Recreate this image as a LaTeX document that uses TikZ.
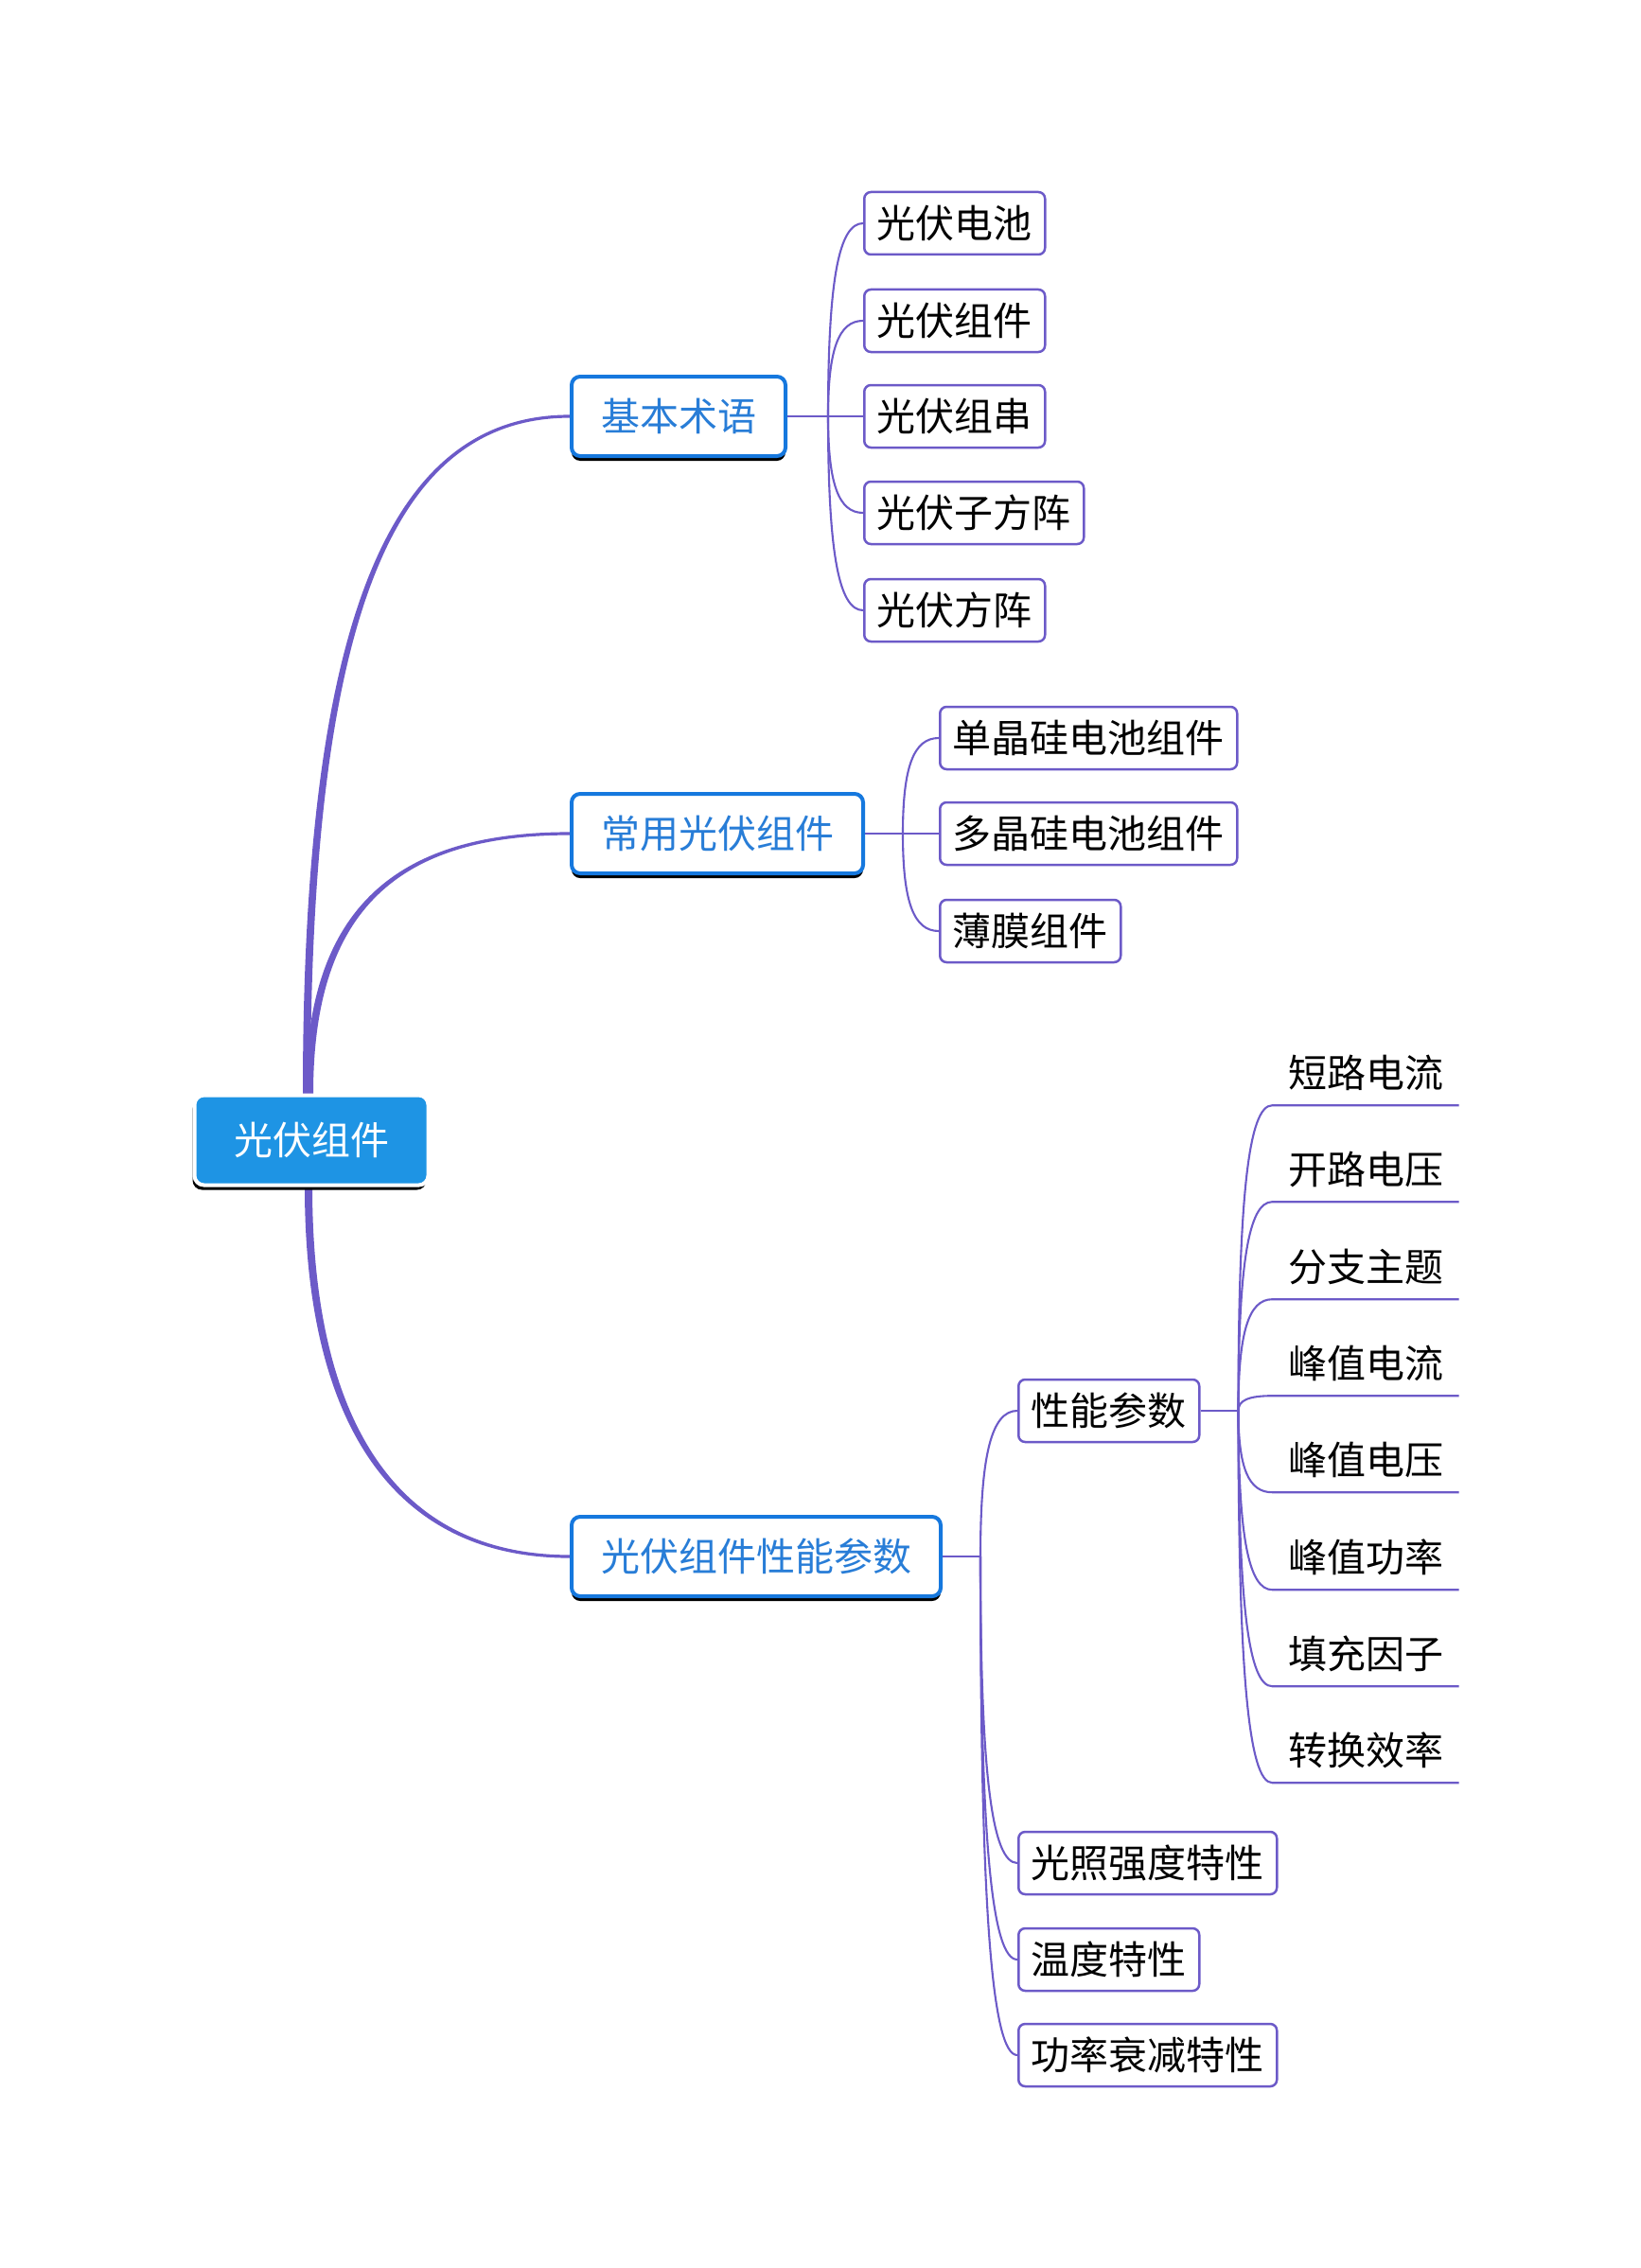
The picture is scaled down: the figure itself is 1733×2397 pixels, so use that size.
\documentclass[tikz,border=0pt]{standalone}
\usepackage{fontspec}
\setmainfont{Noto Sans CJK SC}
\usetikzlibrary{shadows,calc}
\definecolor{lnk}{RGB}{108,90,200}
\definecolor{rootblue}{RGB}{30,148,228}
\definecolor{primblue}{RGB}{22,120,222}
\definecolor{primtext}{RGB}{40,125,215}
\pgfdeclarelayer{bg}
\pgfsetlayers{bg,main}
\tikzset{
  txt/.style={font=\fontsize{41pt}{49pt}\selectfont},
  rootbox/.style={txt, rounded corners=10pt, fill=rootblue, draw=white, line width=4pt, text=white,
    minimum width=247pt, minimum height=95pt, inner sep=0pt,
    drop shadow={shadow xshift=-2pt, shadow yshift=-5pt, fill=black, opacity=1}},
  primbox/.style={txt, rounded corners=9pt, fill=white, draw=primblue, line width=4pt, text=primtext,
    minimum height=84pt, inner xsep=31pt, inner ysep=0pt, anchor=west,
    drop shadow={shadow xshift=0pt, shadow yshift=-5pt, fill=black, opacity=1}},
  leafbox/.style={txt, rounded corners=7pt, fill=white, draw=lnk, line width=2.5pt, text=black,
    minimum height=66pt, inner xsep=13.5pt, inner ysep=0pt, anchor=west},
  ulnode/.style={txt, text=black, minimum width=197pt, minimum height=68pt, inner sep=0pt},
  sub/.style={draw=lnk, line width=2.1pt},
}
\begin{document}
\begin{tikzpicture}[x=1pt,y=-1pt]
\useasboundingbox (0,0) rectangle (1733,2397);

% nodes
\node[rootbox] (root) at (329,1205) {光伏组件};
\node[primbox] (b1) at (602,440) {基本术语};
\node[primbox] (b2) at (602,881) {常用光伏组件};
\node[primbox] (b3) at (602,1645) {光伏组件性能参数};

\node[leafbox] (a1) at (912,236) {光伏电池};
\node[leafbox] (a2) at (912,339) {光伏组件};
\node[leafbox] (a3) at (912,440) {光伏组串};
\node[leafbox] (a4) at (912,542) {光伏子方阵};
\node[leafbox] (a5) at (912,645) {光伏方阵};

\node[leafbox] (c1) at (992,780) {单晶硅电池组件};
\node[leafbox] (c2) at (992,881) {多晶硅电池组件};
\node[leafbox] (c3) at (992,984) {薄膜组件};

\node[leafbox] (p1) at (1075,1491) {性能参数};
\node[leafbox] (p2) at (1075,1969) {光照强度特性};
\node[leafbox] (p3) at (1075,2071) {温度特性};
\node[leafbox] (p4) at (1075,2172) {功率衰减特性};

\node[ulnode] (u1) at (1443,1134) {短路电流};
\node[ulnode] (u2) at (1443,1236) {开路电压};
\node[ulnode] (u3) at (1443,1339) {分支主题};
\node[ulnode] (u4) at (1443,1441) {峰值电流};
\node[ulnode] (u5) at (1443,1543) {峰值电压};
\node[ulnode] (u6) at (1443,1646) {峰值功率};
\node[ulnode] (u7) at (1443,1748) {填充因子};
\node[ulnode] (u8) at (1443,1850) {转换效率};

\coordinate (j1) at ($(b1.east)+(43,0)$);
\coordinate (j2) at ($(b2.east)+(40,0)$);
\coordinate (j3) at ($(b3.east)+(40,0)$);
\coordinate (j4) at ($(p1.east)+(40,0)$);

\begin{pgfonlayer}{bg}
\fill[white] (0,0) rectangle (1733,2397);
% main tapered connectors
\fill[lnk] ($(root.north)+(-9,20)$) -- ($(root.north)+(-9,0)$)
  .. controls ($(root.north)+(-9,-497)$) and ($(b1.west)+(-192,-1.6)$) .. ($(b1.west)+(0,-1.6)$)
  -- ($(b1.west)+(0,1.6)$)
  .. controls ($(b1.west)+(-190,1.6)$) and ($(root.north)+(-1,-495)$) .. ($(root.north)+(-1,0)$)
  -- ($(root.north)+(-1,20)$) -- cycle;
\fill[lnk] ($(root.north)+(-6,20)$) -- ($(root.north)+(-6,0)$)
  .. controls ($(root.north)+(-6,-197)$) and ($(b2.west)+(-182,-1.6)$) .. ($(b2.west)+(0,-1.6)$)
  -- ($(b2.west)+(0,1.6)$)
  .. controls ($(b2.west)+(-180,1.6)$) and ($(root.north)+(2,-195)$) .. ($(root.north)+(2,0)$)
  -- ($(root.north)+(2,20)$) -- cycle;
\fill[lnk] ($(root.south)+(-7,-20)$) -- ($(root.south)+(-7,0)$)
  .. controls ($(root.south)+(-7,239)$) and ($(b3.west)+(-194,1.6)$) .. ($(b3.west)+(0,1.6)$)
  -- ($(b3.west)+(0,-1.6)$)
  .. controls ($(b3.west)+(-190,-1.6)$) and ($(root.south)+(1,237)$) .. ($(root.south)+(1,0)$)
  -- ($(root.south)+(1,-20)$) -- cycle;

% sub connectors
\draw[sub] (b1.east) -- (j1);
\foreach \c in {a1,a2,a3,a4,a5}
  \draw[sub] (j1) .. controls ($(j1)!0.7!(j1|-\c.west)$) and ($(j1|-\c.west)!0.3!(\c.west)$) .. (\c.west);
\draw[sub] (b2.east) -- (j2);
\foreach \c in {c1,c2,c3}
  \draw[sub] (j2) .. controls ($(j2)!0.7!(j2|-\c.west)$) and ($(j2|-\c.west)!0.3!(\c.west)$) .. (\c.west);
\draw[sub] (b3.east) -- (j3);
\foreach \c in {p1,p2,p3,p4}
  \draw[sub] (j3) .. controls ($(j3)!0.7!(j3|-\c.west)$) and ($(j3|-\c.west)!0.3!(\c.west)$) .. (\c.west);
\draw[sub] (p1.east) -- (j4);
\foreach \c in {u1,u2,u3,u4,u5,u6,u7,u8}
  \draw[sub] (j4) .. controls ($(j4)!0.7!(j4|-\c.south west)$) and ($(j4|-\c.south west)!0.3!(\c.south west)$) .. (\c.south west) -- (\c.south east);
\end{pgfonlayer}
\end{tikzpicture}
\end{document}
